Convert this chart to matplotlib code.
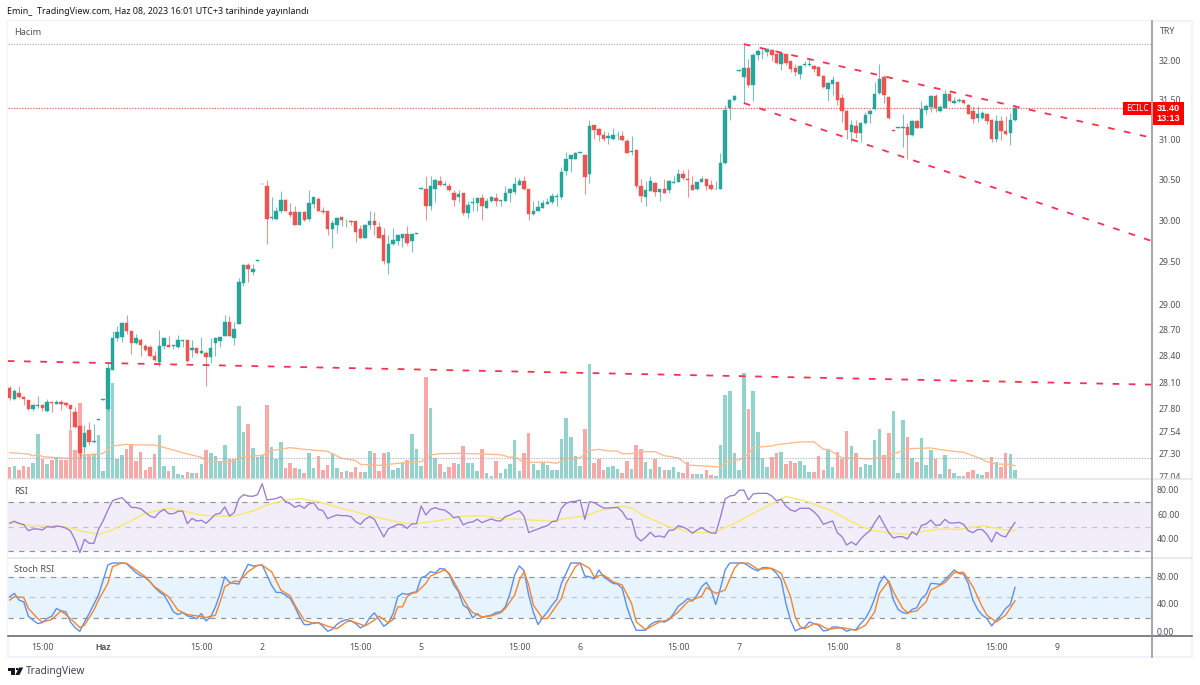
"""
ECILC 15 dakikalık grafik: mumlar, hacim, RSI ve Stoch RSI panelleri
"""

import matplotlib
matplotlib.use('Agg')
import matplotlib.pyplot as plt
from matplotlib.patches import Rectangle, Polygon
from matplotlib.ticker import FixedLocator, NullLocator, NullFormatter, FuncFormatter
from matplotlib.transforms import Bbox
import numpy as np

plt.rcParams['font.family'] = ['Noto Sans', 'DejaVu Sans']
plt.rcParams['font.size'] = 6.3

# mum verileri
opens = [
    28.03, 27.91, 27.98, 27.93, 27.90, 27.79, 27.83, 27.84, 27.77, 27.87,
    27.85, 27.87, 27.86, 27.84, 27.76, 27.60, 27.37, 27.56, 27.43, 27.67,
    27.90, 27.79, 28.24, 28.60, 28.62, 28.78, 28.69, 28.55, 28.58, 28.51,
    28.50, 28.40, 28.33, 28.51, 28.53, 28.51, 28.50, 28.57, 28.58, 28.47,
    28.49, 28.43, 28.43, 28.39, 28.55, 28.57, 28.63, 28.79, 28.61, 28.77,
    29.25, 29.46, 29.38, 29.51, 30.44, 30.42, 30.03, 30.02, 30.11, 30.25,
    30.10, 30.10, 29.95, 30.10, 30.02, 30.20, 30.26, 30.12, 30.12, 29.89,
    29.94, 30.04, 30.00, 29.99, 29.99, 29.90, 29.79, 29.94, 29.99, 29.92,
    29.82, 29.49, 29.71, 29.75, 29.79, 29.84, 29.75, 29.84, 30.39, 30.39,
    30.17, 30.39, 30.48, 30.43, 30.42, 30.33, 30.28, 30.33, 30.09, 30.21,
    30.21, 30.27, 30.15, 30.24, 30.27, 30.24, 30.24, 30.33, 30.35, 30.43,
    30.48, 30.39, 30.08, 30.12, 30.15, 30.20, 30.22, 30.28, 30.29, 30.61,
    30.75, 30.75, 30.83, 30.80, 30.57, 31.18, 31.13, 31.06, 31.02, 31.01,
    31.05, 31.04, 30.98, 30.84, 30.87, 30.42, 30.28, 30.36, 30.46, 30.35,
    30.39, 30.37, 30.46, 30.47, 30.57, 30.51, 30.43, 30.38, 30.47, 30.51,
    30.43, 30.38, 30.39, 30.70, 31.40, 31.50, 31.87, 31.79, 31.91, 31.69,
    32.08, 32.10, 32.12, 32.14, 32.09, 31.96, 32.09, 32.00, 31.91, 31.83,
    31.95, 31.95, 31.94, 31.92, 31.81, 31.64, 31.70, 31.73, 31.52, 31.36,
    31.09, 31.17, 31.08, 31.21, 31.32, 31.38, 31.59, 31.79, 31.54, 31.12,
    31.14, 31.14, 31.15, 31.05, 31.23, 31.14, 31.37, 31.41, 31.55, 31.36,
    31.40, 31.58, 31.46, 31.48, 31.50, 31.44, 31.36, 31.27, 31.27, 31.32,
    31.25, 31.00, 31.23, 31.11, 31.08, 31.24,
]
highs = [
    28.06, 28.02, 28.06, 27.94, 27.90, 27.85, 27.94, 27.84, 27.91, 27.87,
    27.90, 27.90, 27.87, 27.84, 27.82, 27.60, 27.61, 27.65, 27.63, 27.68,
    27.91, 28.32, 28.69, 28.75, 28.79, 28.87, 28.69, 28.65, 28.61, 28.54,
    28.53, 28.46, 28.70, 28.60, 28.63, 28.53, 28.64, 28.58, 28.58, 28.58,
    28.49, 28.62, 28.45, 28.60, 28.62, 28.62, 28.87, 28.86, 28.79, 29.31,
    29.48, 29.49, 29.48, 29.52, 30.45, 30.50, 30.29, 30.16, 30.36, 30.26,
    30.21, 30.17, 30.10, 30.11, 30.37, 30.28, 30.29, 30.16, 30.12, 30.00,
    30.04, 30.04, 30.01, 30.00, 29.99, 29.95, 29.96, 30.12, 30.10, 29.98,
    29.91, 29.82, 29.91, 29.82, 29.84, 29.93, 29.84, 29.85, 30.40, 30.55,
    30.55, 30.51, 30.54, 30.48, 30.46, 30.37, 30.37, 30.33, 30.24, 30.28,
    30.28, 30.32, 30.27, 30.30, 30.33, 30.25, 30.42, 30.40, 30.53, 30.52,
    30.54, 30.39, 30.24, 30.25, 30.25, 30.27, 30.33, 30.33, 30.65, 30.84,
    30.80, 30.84, 30.84, 30.80, 31.24, 31.18, 31.14, 31.10, 31.09, 31.14,
    31.11, 31.10, 31.00, 31.04, 30.87, 30.51, 30.48, 30.55, 30.47, 30.39,
    30.51, 30.49, 30.55, 30.63, 30.62, 30.63, 30.54, 30.47, 30.55, 30.51,
    30.50, 30.48, 30.83, 31.43, 31.51, 31.56, 31.88, 32.22, 32.03, 32.11,
    32.16, 32.17, 32.17, 32.16, 32.11, 32.11, 32.09, 32.00, 31.96, 31.95,
    32.00, 32.03, 31.95, 31.92, 31.82, 31.73, 31.80, 31.73, 31.57, 31.37,
    31.25, 31.24, 31.22, 31.35, 31.39, 31.73, 31.96, 31.82, 31.54, 31.12,
    31.15, 31.32, 31.21, 31.24, 31.24, 31.49, 31.45, 31.56, 31.58, 31.43,
    31.63, 31.60, 31.54, 31.53, 31.50, 31.45, 31.42, 31.42, 31.36, 31.33,
    31.26, 31.31, 31.29, 31.29, 31.33, 31.44,
]
lows = [
    27.90, 27.90, 27.92, 27.84, 27.78, 27.77, 27.81, 27.77, 27.76, 27.76,
    27.85, 27.78, 27.82, 27.57, 27.58, 27.25, 27.30, 27.39, 27.42, 27.67,
    27.90, 27.77, 28.24, 28.57, 28.56, 28.65, 28.42, 28.54, 28.40, 28.46,
    28.39, 28.34, 28.28, 28.48, 28.50, 28.48, 28.49, 28.50, 28.33, 28.39,
    28.42, 28.42, 28.06, 28.32, 28.40, 28.50, 28.63, 28.63, 28.53, 28.77,
    29.21, 29.26, 29.35, 29.51, 30.44, 29.71, 30.00, 30.00, 30.09, 30.11,
    30.04, 29.95, 29.94, 29.99, 29.99, 30.15, 30.12, 30.08, 29.82, 29.67,
    29.85, 29.93, 29.92, 29.95, 29.74, 29.79, 29.79, 29.90, 29.82, 29.79,
    29.47, 29.36, 29.70, 29.70, 29.68, 29.70, 29.62, 29.84, 30.39, 30.00,
    30.13, 30.23, 30.42, 30.42, 30.36, 30.18, 30.22, 30.07, 30.03, 30.11,
    30.12, 30.00, 30.15, 30.23, 30.18, 30.18, 30.24, 30.22, 30.32, 30.43,
    30.37, 30.00, 30.07, 30.11, 30.15, 30.20, 30.20, 30.18, 30.26, 30.56,
    30.59, 30.75, 30.83, 30.32, 30.46, 31.00, 30.98, 30.98, 30.94, 30.99,
    30.99, 30.98, 30.83, 30.80, 30.40, 30.23, 30.18, 30.36, 30.30, 30.24,
    30.33, 30.34, 30.46, 30.47, 30.50, 30.28, 30.37, 30.37, 30.47, 30.37,
    30.37, 30.38, 30.39, 30.69, 31.25, 31.49, 31.87, 31.46, 31.66, 31.48,
    32.01, 32.03, 32.06, 32.00, 31.96, 31.88, 31.95, 31.86, 31.81, 31.77,
    31.94, 31.94, 31.86, 31.80, 31.65, 31.49, 31.56, 31.44, 31.22, 31.00,
    30.97, 31.02, 30.97, 31.20, 31.21, 31.37, 31.57, 31.46, 31.26, 31.10,
    31.14, 30.90, 30.76, 31.04, 31.14, 31.14, 31.32, 31.34, 31.34, 31.34,
    31.40, 31.47, 31.45, 31.47, 31.45, 31.32, 31.21, 31.22, 31.26, 31.20,
    30.97, 30.97, 30.99, 31.05, 30.93, 31.23,
]
closes = [
    27.92, 28.00, 27.93, 27.91, 27.79, 27.84, 27.84, 27.81, 27.87, 27.86,
    27.87, 27.85, 27.84, 27.79, 27.59, 27.30, 27.53, 27.43, 27.44, 27.68,
    27.91, 28.26, 28.60, 28.68, 28.78, 28.69, 28.55, 28.60, 28.52, 28.47,
    28.40, 28.35, 28.51, 28.60, 28.50, 28.52, 28.58, 28.58, 28.34, 28.49,
    28.43, 28.46, 28.39, 28.49, 28.60, 28.62, 28.79, 28.63, 28.71, 29.26,
    29.46, 29.41, 29.42, 29.52, 30.45, 30.02, 30.04, 30.12, 30.25, 30.11,
    30.07, 29.95, 30.10, 30.00, 30.21, 30.28, 30.12, 30.10, 29.90, 29.97,
    30.03, 30.00, 30.01, 29.98, 29.86, 29.79, 29.94, 29.99, 29.94, 29.79,
    29.51, 29.71, 29.76, 29.82, 29.84, 29.73, 29.84, 29.85, 30.40, 30.17,
    30.42, 30.50, 30.43, 30.44, 30.37, 30.25, 30.32, 30.09, 30.19, 30.23,
    30.27, 30.17, 30.24, 30.28, 30.24, 30.25, 30.34, 30.38, 30.45, 30.48,
    30.38, 30.08, 30.12, 30.16, 30.21, 30.23, 30.30, 30.30, 30.59, 30.75,
    30.80, 30.83, 30.84, 30.53, 31.17, 31.12, 31.05, 31.01, 31.04, 31.06,
    31.06, 30.99, 30.83, 30.85, 30.42, 30.30, 30.37, 30.48, 30.35, 30.38,
    30.33, 30.48, 30.47, 30.57, 30.52, 30.49, 30.37, 30.47, 30.51, 30.42,
    30.38, 30.39, 30.70, 31.37, 31.50, 31.55, 31.88, 31.91, 31.69, 32.08,
    32.13, 32.11, 32.15, 32.08, 31.97, 32.10, 31.97, 31.90, 31.86, 31.94,
    31.96, 31.96, 31.90, 31.80, 31.66, 31.71, 31.75, 31.50, 31.36, 31.12,
    31.18, 31.08, 31.21, 31.31, 31.36, 31.58, 31.77, 31.56, 31.27, 31.10,
    31.15, 31.15, 31.05, 31.23, 31.14, 31.39, 31.42, 31.55, 31.40, 31.41,
    31.57, 31.48, 31.48, 31.50, 31.46, 31.32, 31.26, 31.32, 31.33, 31.23,
    31.00, 31.23, 31.10, 31.07, 31.25, 31.40,
]

# hacim ve hareketli ortalaması
volumes = [
    37, 40, 27, 40, 35, 49, 135, 60, 45, 57,
    64, 56, 58, 147, 86, 227, 74, 74, 74, 131,
    24, 218, 288, 60, 72, 89, 101, 54, 81, 28,
    37, 75, 131, 40, 24, 40, 14, 12, 21, 18,
    18, 44, 87, 79, 70, 50, 103, 59, 60, 218,
    140, 164, 94, 65, 72, 222, 96, 59, 110, 33,
    49, 33, 30, 17, 79, 33, 70, 26, 42, 77,
    33, 21, 24, 21, 35, 21, 21, 83, 79, 24,
    77, 81, 28, 33, 52, 57, 134, 89, 38, 307,
    213, 64, 44, 22, 35, 47, 44, 99, 47, 47,
    24, 89, 17, 10, 54, 19, 30, 44, 117, 24,
    79, 138, 44, 26, 47, 42, 26, 26, 120, 182,
    126, 69, 39, 150, 345, 49, 59, 26, 35, 39,
    30, 19, 54, 30, 102, 91, 51, 30, 59, 35,
    28, 28, 35, 21, 19, 51, 14, 14, 16, 26,
    12, 9, 101, 252, 264, 77, 26, 318, 210, 264,
    140, 64, 35, 66, 77, 81, 44, 53, 49, 54,
    42, 21, 21, 70, 26, 91, 35, 81, 61, 143,
    98, 77, 35, 44, 42, 117, 149, 72, 138, 204,
    18, 178, 126, 63, 51, 124, 42, 86, 60, 16,
    72, 30, 19, 9, 9, 21, 26, 14, 12, 21,
    65, 51, 35, 77, 74, 26,
]
volume_flipped = [27, 189]
vol_ma_idx = [
    0, 4, 5, 6, 7, 11, 14, 16, 20, 22, 25, 28, 31, 35, 38, 41, 42, 47, 50, 54,
    56, 60, 63, 68, 71, 74, 75, 79, 83, 88, 90, 92, 96, 101, 105, 107, 108,
    110, 115, 117, 119, 122, 124, 126, 128, 130, 131, 133, 135, 138, 140, 143,
    145, 152, 154, 156, 158, 159, 163, 164, 169, 172, 174, 175, 178, 184, 188,
    190, 192, 197, 200, 204, 207, 209, 211, 214, 215,
]
vol_ma = [
    79, 75, 69, 74, 67, 63, 61, 72, 77, 99, 104, 102, 102, 87, 75, 65, 53, 51, 67, 71,
    85, 94, 89, 83, 62, 55, 44, 41, 47, 52, 72, 76, 77, 75, 73, 65, 67,
    49, 51, 47, 60, 64, 85, 89, 84, 84, 76, 76, 82, 82, 70, 63,
    42, 36, 57, 57, 75, 94, 99, 103, 111, 112, 89, 89, 64, 60, 70,
    80, 91, 93, 86, 80, 65, 52, 45, 44, 39,
]

# RSI ve ortalaması
rsi = [
    52.7, 54.4, 52.7, 51.6, 46.7, 48.1, 48.1, 47.3, 50.0, 49.5,
    50.5, 50.0, 48.9, 46.5, 39.1, 28.8, 39.7, 36.4, 36.4, 47.8,
    54.9, 63.6, 71.2, 72.6, 73.7, 70.1, 65.8, 65.5, 64.7, 61.7,
    58.7, 57.3, 61.7, 64.1, 60.6, 60.6, 62.5, 62.8, 52.4, 56.8,
    54.6, 55.2, 52.7, 56.3, 60.1, 60.9, 66.1, 58.7, 61.4, 72.6,
    76.1, 75.0, 74.8, 76.1, 85.1, 71.8, 72.3, 72.9, 74.5, 70.4,
    68.8, 65.8, 67.4, 65.0, 68.5, 69.6, 64.1, 63.1, 56.5, 58.2,
    59.5, 59.0, 59.0, 58.2, 54.1, 51.9, 56.0, 58.2, 56.0, 48.6,
    41.6, 48.4, 50.0, 51.9, 51.4, 48.6, 52.2, 52.4, 66.9, 59.5,
    64.1, 65.5, 64.1, 63.6, 60.9, 57.3, 58.2, 51.4, 53.3, 53.8,
    56.0, 53.3, 54.9, 56.3, 54.9, 54.6, 58.2, 59.5, 61.4, 63.1,
    58.7, 45.1, 46.7, 48.1, 49.7, 50.8, 54.1, 54.6, 65.0, 69.0,
    70.4, 70.7, 71.8, 56.0, 70.4, 69.6, 67.4, 65.2, 65.2, 65.5,
    65.8, 62.2, 56.3, 56.0, 41.8, 38.3, 41.3, 45.4, 41.8, 42.4,
    41.3, 47.0, 47.3, 50.8, 49.7, 47.8, 44.6, 47.3, 49.2, 46.7,
    44.8, 44.6, 57.6, 72.6, 75.0, 75.6, 79.7, 79.9, 71.8, 76.7,
    77.2, 77.2, 77.2, 75.0, 71.2, 72.3, 66.9, 63.6, 62.5, 65.0,
    65.0, 65.0, 62.2, 58.2, 51.9, 53.3, 54.6, 45.1, 41.8, 35.0,
    37.5, 35.0, 39.9, 43.7, 46.7, 53.3, 59.0, 51.9, 45.1, 40.7,
    41.8, 41.8, 39.9, 45.9, 43.2, 51.1, 52.2, 55.4, 51.1, 51.4,
    56.0, 53.0, 53.0, 53.5, 51.9, 46.7, 45.1, 47.6, 47.6, 43.7,
    37.5, 45.6, 42.7, 41.6, 47.8, 53.5,
]
rsi_ma_idx = [
    0, 2, 5, 9, 12, 15, 19, 22, 26, 29, 34, 36, 41, 44, 48, 52, 55, 59, 62, 66,
    69, 76, 81, 84, 87, 92, 96, 101, 105, 109, 116, 119, 123, 126, 131, 133,
    136, 141, 145, 148, 151, 155, 159, 166, 169, 171, 176, 180, 184, 189, 192,
    195, 199, 203, 208, 214, 215,
]
rsi_ma = [
    53.8, 52.4, 50.8, 50.8, 49.7, 46.7, 43.7, 47.3, 54.9, 60.9, 65.2, 63.6, 59.5, 58.7, 58.7, 62.8, 67.7, 71.8, 72.9, 70.4,
    67.1, 60.0, 55.4, 53.0, 52.4, 55.0, 58.2, 59.0, 56.8, 56.0, 54.4, 56.8, 58.7, 62.8, 66.9, 65.0,
    58.2, 50.0, 45.9, 45.0, 45.9, 52.7, 60.9, 74.5, 72.0, 69.9, 62.5, 54.1, 47.3, 44.6, 43.7,
    45.9, 48.0, 47.8, 50.8, 46.7, 47.0,
]

# Stoch RSI
stoch_k = [
    50.6, 55.5, 45.7, 43.2, 22.1, 16.2, 11.3, 12.8, 18.7, 22.1,
    33.4, 29.9, 28.5, 13.7, 5.4, 0.0, 13.7, 26.0, 39.8, 53.0,
    75.1, 97.2, 100.0, 100.0, 100.0, 99.0, 92.3, 85.9, 81.5, 78.6,
    72.7, 64.3, 57.9, 53.0, 41.7, 28.5, 24.5, 27.5, 22.6, 21.1,
    18.2, 26.0, 15.2, 21.1, 35.8, 55.5, 80.0, 71.7, 70.2, 69.2,
    84.9, 98.2, 95.7, 96.2, 97.2, 82.5, 67.7, 56.9, 56.9, 53.0,
    48.1, 35.8, 21.1, 9.8, 9.8, 12.3, 12.8, 7.4, 0.0, 2.9,
    10.3, 14.7, 17.2, 15.2, 11.3, 4.9, 8.8, 20.1, 27.0, 17.2,
    7.4, 12.3, 26.0, 50.6, 55.5, 54.0, 56.4, 57.9, 78.6, 81.0,
    87.4, 85.4, 91.8, 91.3, 83.5, 67.7, 57.9, 38.3, 33.4, 19.6,
    26.0, 20.1, 22.1, 23.6, 27.5, 28.5, 35.8, 55.5, 82.5, 95.7,
    88.8, 53.0, 27.5, 9.8, 20.1, 28.5, 38.3, 46.6, 70.2, 84.9,
    100.0, 100.0, 100.0, 81.0, 80.0, 76.6, 89.8, 80.0, 75.1, 70.2,
    69.2, 62.8, 35.8, 16.2, 1.5, 1.5, 1.5, 9.8, 13.7, 15.2,
    13.3, 17.2, 26.0, 36.8, 41.7, 48.1, 44.2, 53.0, 65.3, 71.7,
    60.4, 39.3, 62.8, 89.8, 100.0, 100.0, 100.0, 100.0, 95.7, 91.3,
    88.4, 93.3, 93.3, 91.3, 84.9, 75.1, 40.7, 16.2, 0.5, 3.9,
    5.4, 13.7, 11.3, 8.8, 0.5, 1.5, 6.4, 6.4, 4.4, 0.0,
    2.5, 2.5, 11.3, 18.7, 30.9, 48.1, 70.2, 81.0, 72.6, 45.7,
    32.0, 27.5, 26.0, 32.0, 34.4, 48.1, 54.0, 70.2, 69.7, 68.7,
    75.1, 82.5, 89.8, 84.9, 83.5, 70.2, 45.7, 32.0, 23.6, 18.7,
    7.9, 16.2, 23.6, 33.4, 39.3, 64.3,
]
stoch_d_idx = [
    0, 1, 3, 4, 6, 7, 9, 10, 11, 13, 15, 16, 18, 19, 21, 22, 24, 25, 27, 29,
    31, 34, 36, 38, 40, 42, 44, 45, 46, 48, 49, 51, 53, 54, 56, 58, 60, 61, 63,
    65, 66, 68, 70, 72, 73, 76, 78, 79, 81, 82, 83,
    84, 85, 86, 87, 89, 90, 91, 93, 94, 96, 98, 99, 101, 103, 105, 106, 108,
    109, 110, 111, 112, 114, 115, 116, 118, 119, 121, 122, 124, 125, 127, 129,
    131, 133, 134, 136, 137, 139, 141, 143, 145, 148, 149, 151, 153, 155, 156,
    158, 160, 163, 165, 167, 168, 169,
    170, 172, 173, 175, 178, 181, 183, 185, 186, 188, 189, 191, 192, 194, 196,
    197, 200, 202, 204, 206, 208, 209, 211, 213, 215,
]
stoch_d = [
    45.7, 50.6, 49.6, 33.4, 18.7, 13.7, 17.2, 23.6, 29.9, 18.7, 5.4, 8.8, 30.9, 45.7, 70.2, 94.7, 100.0, 99.7, 89.8, 80.0,
    65.3, 50.6, 30.9, 24.5, 22.6, 20.1, 23.6, 43.2, 65.3, 73.6, 72.7, 87.4, 96.7, 96.7, 87.4, 60.4, 52.0, 38.3, 16.2,
    11.3, 12.8, 7.4, 3.9, 13.7, 15.2, 7.9, 16.2, 22.1, 12.3, 17.2, 35.8,
    35.8, 50.6, 55.5, 56.9, 70.2, 81.0, 83.9, 89.8, 84.9, 60.4, 35.8, 27.5, 21.1, 22.6, 27.0, 33.4, 53.0,
    75.1, 87.4, 67.7, 38.3, 18.7, 18.7, 28.5, 48.1, 70.2, 94.7, 100.0, 92.3, 80.0, 82.5, 72.7,
    67.7, 40.7, 13.7, 2.5, 6.4, 13.7, 17.2, 28.5, 43.2, 51.5, 64.3, 55.5, 60.4, 92.3, 100.0,
    99.7, 90.8, 92.3, 84.9, 50.6, 21.1, 7.4,
    3.4, 11.3, 10.3, 2.9, 5.4, 1.5, 8.8, 28.5, 55.5, 74.1, 57.9, 33.4, 27.5, 29.9, 43.2,
    60.4, 71.2, 85.9, 86.4, 65.3, 35.8, 23.6, 13.7, 23.6, 44.7,
]

# düşen kanal ve uzun vadeli trend çizgileri
trend_upper_x = [157.0, 244.3]
trend_upper_y = [32.22, 31.02]
trend_lower_x = [157.0, 244.3]
trend_lower_y = [31.46, 29.75]
trend_long_x = [-0.4, 244.3]
trend_long_y = [28.34, 28.07]

price_ticks = [32.00, 31.50, 31.00, 30.50, 30.00, 29.50, 29.00, 28.70, 28.40, 28.10, 27.80, 27.54, 27.30, 27.04]
rsi_ticks = [80, 60, 40]
stoch_ticks = [80, 40, 0]
time_ticks = [7, 20, 41, 54, 75, 88, 109, 122, 143, 156, 177, 190, 211, 224]
time_labels = ['15:00', 'Haz', '15:00', '2', '15:00', '5', '15:00', '6', '15:00', '7', '15:00', '8', '15:00', '9']

W, H = 1200, 685
GREEN = '#26a69a'
RED = '#ef5350'
VOL_GREEN = '#92d3cc'
VOL_RED = '#f8a9a7'
TEXT = '#50535e'
FRAME = '#f0f3fa'
SEP = '#e0e3eb'
AXIS_LINE = '#8b8e97'
BOLD_FONT = ['Liberation Sans', 'DejaVu Sans']


def px_axes(fig, top, bottom):
    # piksel sınırlarından panel oluştur
    ax = fig.add_axes([8 / W, 1 - bottom / H, (1152 - 8) / W, (bottom - top) / H])
    ax.set_xlim(-0.36, 244.3)
    for s in ax.spines.values():
        s.set_visible(False)
    ax.xaxis.set_major_locator(NullLocator())
    ax.tick_params(axis='both', which='both', length=0, labelsize=6.3, labelcolor=TEXT)
    return ax


def fx(x):
    return x / W


def fy(y):
    return 1 - y / H


fig = plt.figure(figsize=(W / 100, H / 100), dpi=100, facecolor='white')

x = np.arange(len(closes))
opens_a, highs_a, lows_a, closes_a = map(np.array, (opens, highs, lows, closes))
up = closes_a >= opens_a

# hacim paneli, mumların arkasında
ax_vol = px_axes(fig, 21, 479)
ax_vol.set_ylim(0, 1374)
ax_vol.yaxis.set_major_locator(NullLocator())
ax_vol.set_zorder(1)
vol_up = up.copy()
vol_up[volume_flipped] = ~vol_up[volume_flipped]
ax_vol.bar(x, volumes, width=0.76, color=[VOL_GREEN if u else VOL_RED for u in vol_up], linewidth=0)
ax_vol.plot(vol_ma_idx, vol_ma, color='#ffb98a', lw=0.95, zorder=3)

# fiyat paneli
ax = px_axes(fig, 21, 479)
ax.set_zorder(2)
ax.patch.set_visible(False)
ax.set_yscale('log')
ax.set_ylim(32 * np.exp(-418 / 2470), 32 * np.exp(40 / 2470))
ax.yaxis.tick_right()
ax.yaxis.set_major_locator(FixedLocator(price_ticks))
ax.yaxis.set_minor_locator(NullLocator())
ax.yaxis.set_minor_formatter(NullFormatter())
ax.yaxis.set_major_formatter(FuncFormatter(lambda v, pos: f'{v:.2f}'))
ax.tick_params(axis='y', pad=5)

# görünen aralığın tepe ve dip çizgileri, son fiyat çizgisi
ax.axhline(max(highs), color='#a6a9b2', lw=0.8, ls=(0, (1, 1.4)), zorder=1)
ax.axhline(min(lows), color='#a6a9b2', lw=0.8, ls=(0, (1, 1.4)), zorder=1)
ax.axhline(closes[-1], color='#f85a5a', lw=0.9, ls=(0, (1, 1.2)), zorder=1)

wick_colors = [GREEN if u else RED for u in up]
ax.vlines(x, lows_a, highs_a, colors=wick_colors, linewidth=0.75, alpha=0.65, zorder=3)
ax.bar(x, np.abs(closes_a - opens_a), bottom=np.minimum(opens_a, closes_a), width=0.74,
       color=wick_colors, edgecolor=wick_colors, linewidth=0.3, zorder=4)

dash = (0, (3.7, 5.3))
for tx, ty in ((trend_upper_x, trend_upper_y), (trend_lower_x, trend_lower_y), (trend_long_x, trend_long_y)):
    ax.plot(tx, ty, color='#f7314f', lw=1.3, ls=dash, zorder=5)

# 27.04 etiketi panel sınırında kesiliyor
for lab in ax.get_yticklabels():
    lab.set_clip_on(True)
    lab.set_clip_box(Bbox([[1153, H - 478.5], [1192, H - 21]]))
    lab.set_y(lab.get_position()[1])

# RSI paneli
ax_rsi = px_axes(fig, 480, 558)
ax_rsi.set_ylim(24.4, 88.1)
ax_rsi.yaxis.tick_right()
ax_rsi.set_yticks(rsi_ticks, [f'{v:.2f}' for v in rsi_ticks])
ax_rsi.tick_params(axis='y', pad=3.6)
ax_rsi.axhspan(30, 70, color='#f1edf9', lw=0, zorder=0)
for lev, c in ((70, '#8f929b'), (50, '#c3c5cb'), (30, '#8f929b')):
    ax_rsi.axhline(lev, color=c, lw=0.85, ls=(0, (4.5, 4.5)), zorder=1)
ax_rsi.plot(rsi_ma_idx, rsi_ma, color='#f8ea6b', lw=1.05, zorder=2)
ax_rsi.plot(x, rsi, color='#9a7cd2', lw=0.95, zorder=3)

# Stoch RSI paneli
ax_st = px_axes(fig, 559, 636)
ax_st.set_ylim(-6.9, 105.9)
ax_st.yaxis.tick_right()
ax_st.set_yticks(stoch_ticks, [f'{v:.2f}' for v in stoch_ticks])
ax_st.tick_params(axis='y', pad=3.6)
ax_st.axhspan(20, 80, color='#e7f4fe', lw=0, zorder=0)
for lev, c in ((80, '#8f929b'), (50, '#c3c5cb'), (20, '#8f929b')):
    ax_st.axhline(lev, color=c, lw=0.85, ls=(0, (4.5, 4.5)), zorder=1)
ax_st.plot(x, stoch_k, color='#5b8ff0', lw=1.0, zorder=2)
ax_st.plot(stoch_d_idx, stoch_d, color='#f5852d', lw=1.0, zorder=3)
ax_st.set_xticks(time_ticks, time_labels)
ax_st.tick_params(axis='x', pad=5.3, labelsize=6.3, labelcolor=TEXT)
for lab in ax_st.get_xticklabels():
    if lab.get_text() == 'Haz':
        lab.set_family(BOLD_FONT)
        lab.set_fontweight('bold')

# çerçeve ve panel ayraçları
fig.add_artist(Rectangle((fx(7.7), fy(656.8)), fx(1191.8 - 7.7), (656.8 - 20.7) / H, fill=False,
                         edgecolor=FRAME, lw=1.6, zorder=0))
for y0, col, lw in ((479.3, SEP, 1.1), (558.3, SEP, 1.1), (636, '#5d6069', 1.1)):
    fig.add_artist(plt.Line2D([fx(8), fx(1192)], [fy(y0), fy(y0)], color=col, lw=lw, zorder=6))
fig.add_artist(plt.Line2D([fx(1152), fx(1152)], [fy(21), fy(657)], color=AXIS_LINE, lw=1.1, zorder=6))

# son fiyat etiketi
fig.add_artist(Rectangle((fx(1123), fy(114.5)), 28 / W, 12.5 / H, facecolor='#ff0000', edgecolor='none', zorder=7))
fig.add_artist(Rectangle((fx(1152.5), fy(125)), 31.5 / W, 23 / H, facecolor='#ff0000', edgecolor='none', zorder=7))
fig.text(fx(1137), fy(108.2), 'ECILC', color='white', fontsize=6.1, ha='center', va='center', zorder=8)
fig.text(fx(1168), fy(108.2), f'{closes[-1]:.2f}', color='white', fontsize=6.7, fontweight='bold',
         family=BOLD_FONT, ha='center', va='center', zorder=8)
fig.text(fx(1168), fy(118.8), '13:13', color='white', fontsize=6.7, fontweight='bold',
         family=BOLD_FONT, ha='center', va='center', zorder=8)

# başlık ve panel adları
fig.text(fx(7), fy(11), 'Emin_  TradingView.com, Haz 08, 2023 16:01 UTC+3 tarihinde yayınlandı',
         color='#131722', fontsize=6.45, ha='left', va='center')
fig.text(fx(14), fy(32.6), 'Hacim', color=TEXT, fontsize=6.6, ha='left', va='center', zorder=8)
fig.text(fx(14), fy(491), 'RSI', color=TEXT, fontsize=6.6, ha='left', va='center', zorder=8)
fig.text(fx(14), fy(570), 'Stoch RSI', color=TEXT, fontsize=6.6, ha='left', va='center', zorder=8)
fig.text(fx(1160), fy(32), 'TRY', color=TEXT, fontsize=6.3, ha='left', va='center', zorder=8)

# TradingView logosu
logo = '#131722'
fig.add_artist(Polygon([(fx(8), fy(667.5)), (fx(14.8), fy(667.5)), (fx(14.8), fy(675)), (fx(11.4), fy(675)),
                        (fx(11.4), fy(670.8)), (fx(8), fy(670.8))], closed=True, facecolor=logo, edgecolor='none',
                       transform=fig.transFigure))
fig.add_artist(Polygon([(fx(19), fy(667.5)), (fx(23.2), fy(667.5)), (fx(19.4), fy(675)), (fx(15.4), fy(675))],
                       closed=True, facecolor=logo, edgecolor='none', transform=fig.transFigure))
fig.add_artist(Polygon([(fx(15.5), fy(667.7)), (fx(18), fy(667.7)), (fx(18), fy(670.2)), (fx(15.5), fy(670.2))],
                       closed=True, facecolor=logo, edgecolor='none', transform=fig.transFigure))
fig.text(fx(26), fy(671.3), 'TradingView', color='#3f434e', fontsize=7.3, ha='left', va='center')

fig.savefig('out.png', dpi=100, facecolor='white')
plt.close(fig)
